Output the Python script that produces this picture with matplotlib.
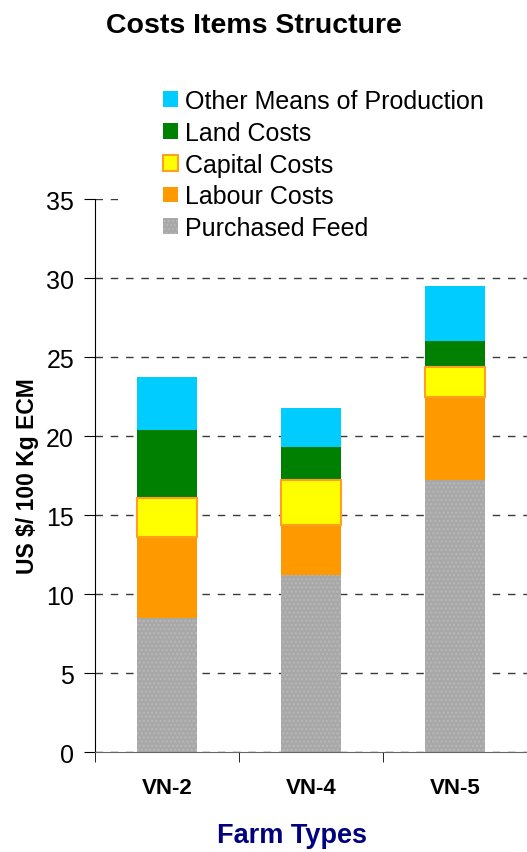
import matplotlib
matplotlib.use('Agg')
import matplotlib.pyplot as plt
from matplotlib.patches import Rectangle
import numpy as np

# Data
farms = ['VN-2', 'VN-4', 'VN-5']
purchased_feed = [8.5, 11.2, 17.2]
labour_costs = [5.1, 3.2, 5.3]
capital_costs = [2.5, 2.8, 1.9]
land_costs = [4.3, 2.1, 1.6]
other_means = [3.35, 2.5, 3.5]

plt.rcParams['font.family'] = ['Liberation Sans', 'DejaVu Sans']

fig = plt.figure(figsize=(5.27, 8.53), dpi=100)
ax = fig.add_axes([0.180, 0.1172, 0.82, 0.6483])

x = np.arange(len(farms))
w = 0.42
bottom = np.zeros(len(farms))

# Stack the cost items
ax.bar(x, purchased_feed, w, bottom=bottom, color='#a8a8a8', hatch='....',
       edgecolor='#b8b8b8', linewidth=0, label='Purchased Feed', zorder=2)
bottom += purchased_feed
ax.bar(x, labour_costs, w, bottom=bottom, color='#ff9900', linewidth=0,
       label='Labour Costs', zorder=2)
bottom += labour_costs
ax.bar(x, capital_costs, w, bottom=bottom, color='#ffff00', edgecolor='#ffa020',
       linewidth=1.5, label='Capital Costs', zorder=3)
bottom += capital_costs
ax.bar(x, land_costs, w, bottom=bottom, color='#008000', linewidth=0,
       label='Land Costs', zorder=2)
bottom += land_costs
ax.bar(x, other_means, w, bottom=bottom, color='#00ccff', linewidth=0,
       label='Other Means of Production', zorder=2)

ax.set_xlim(-0.5, 2.5)
ax.set_ylim(0, 35)
ax.set_yticks(np.arange(0, 36, 5))
ax.tick_params(axis='y', labelsize=18, length=8, direction='out', pad=7)
ax.set_xticks(x)
ax.set_xticklabels(farms, fontsize=16, fontweight='bold')
ax.tick_params(axis='x', length=0, pad=18)
ax.set_xticks([-0.5, 0.5, 1.5, 2.5], minor=True)
ax.tick_params(axis='x', which='minor', length=7, direction='out')

ax.yaxis.grid(True, linestyle=(0, (5.4, 5.6)), color='#3a3a3a', linewidth=1.0)
ax.set_axisbelow(True)
for s in ['top', 'right']:
    ax.spines[s].set_visible(False)
ax.spines['bottom'].set_color('#666666')
ax.spines['left'].set_color('black')

ax.set_ylabel('US $/ 100 Kg ECM', fontsize=16.5, fontweight='bold')
ax.yaxis.set_label_coords(-0.13, 0.5)

fig.text(0.554, 0.0117, 'Farm Types', fontsize=19.5, fontweight='bold',
         color='#000080', ha='center', va='baseline')
fig.text(0.481, 0.9613, 'Costs Items Structure', fontsize=20.5,
         fontweight='bold', ha='center', va='baseline')

# white box behind the legend (it hides the top grid line)
fig.patches.append(Rectangle((118 / 527, 1 - 250 / 853), 1, 170 / 853,
                             transform=fig.transFigure, facecolor='white',
                             edgecolor='none', zorder=1.5))

handles, labels = ax.get_legend_handles_labels()
leg = fig.legend(handles[::-1], labels[::-1], loc='upper left',
                 bbox_to_anchor=(163 / 527, 1 - 90 / 853), frameon=False,
                 fontsize=18, handlelength=0.6, handleheight=0.6,
                 handletextpad=0.28, labelspacing=0.31, borderpad=0,
                 borderaxespad=0)

fig.savefig('out.png', dpi=100)
